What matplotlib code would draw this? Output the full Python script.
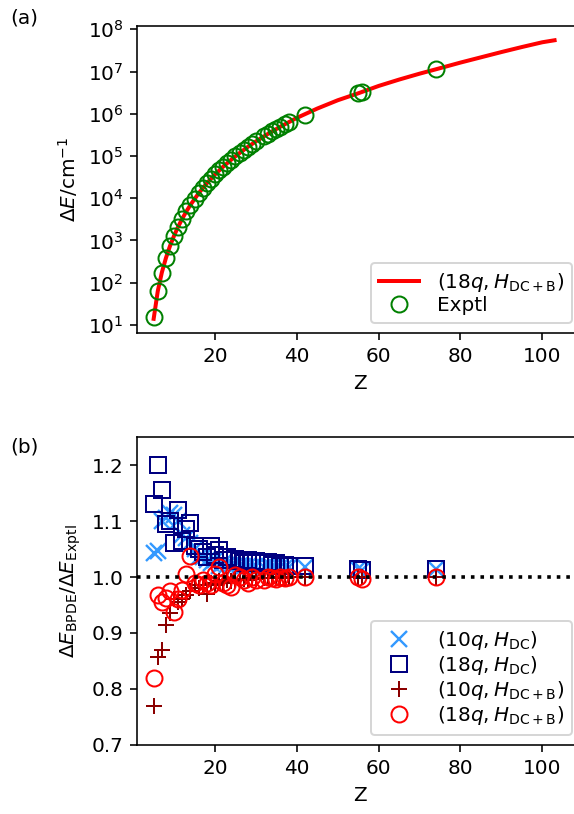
import numpy as np
import matplotlib
matplotlib.use('Agg')
import matplotlib.pyplot as plt

# panel (a): theory curve (18q, H_DC+B)
z_line = [5, 6, 7, 8, 9, 10, 11, 12, 13, 14, 16, 18, 20, 22, 24, 26, 28, 30,
          33, 36, 40, 45, 50, 55, 60, 65, 70, 74, 80, 85, 90, 95, 100, 103]
de_line = [14.0, 63, 175, 386, 745, 1307, 2135, 3300, 4880, 6990, 13140, 22660,
           36560, 56000, 82300, 117500, 164000, 222000, 337000, 496000, 8.0e5,
           1.33e6, 2.09e6, 3.05e6, 4.56e6, 6.45e6, 8.9e6, 1.13e7, 1.63e7,
           2.17e7, 2.89e7, 3.80e7, 4.93e7, 5.5e7]

# experimental points
z_exp = [5, 6, 7, 8, 9, 10, 11, 12, 13, 14, 15, 16, 17, 18, 19, 20, 21, 22, 23,
         24, 25, 26, 27, 28, 29, 30, 32, 33, 34, 35, 36, 37, 38, 42, 55, 56, 74]
de_exp = [15.3, 63.4, 174.4, 386.2, 744.5, 1307, 2137, 3302, 4880, 6991, 9700,
          13140, 17340, 22656, 28900, 36560, 45500, 56000, 68200, 82300, 98400,
          118300, 139000, 164000, 191000, 222000, 294000, 337000, 385000,
          438000, 496000, 560000, 630000, 9.4e5, 3.04e6, 3.35e6, 1.13e7]

# panel (b): ratios to experiment
r_10q_dc = [1.043, 1.047, 1.100, 1.105, 1.115, 1.110, 1.100, 1.075, 1.070,
            1.060, 1.050, 1.035, 1.035, 1.030, 1.025, 1.030, 1.020, 1.025,
            1.022, 1.022, 1.020, 1.022, 1.020, 1.020, 1.018, 1.020, 1.018,
            1.020, 1.018, 1.018, 1.017, 1.018, 1.017, 1.018, 1.015, 1.013, 1.015]
r_18q_dc = [1.130, 1.200, 1.155, 1.095, 1.100, 1.060, 1.120, 1.065, 1.085,
            1.097, 1.055, 1.050, 1.045, 1.035, 1.055, 1.040, 1.048, 1.030,
            1.035, 1.030, 1.032, 1.028, 1.025, 1.030, 1.025, 1.028, 1.025,
            1.026, 1.022, 1.025, 1.020, 1.022, 1.020, 1.020, 1.015, 1.012, 1.015]
r_10q_dcb = [0.770, 0.858, 0.870, 0.915, 0.935, 0.960, 0.955, 0.960, 0.968,
             0.975, 0.985, 0.980, 0.985, 0.970, 0.990, 0.985, 0.992, 0.990,
             0.995, 0.992, 0.995, 0.995, 0.997, 0.995, 0.998, 0.997, 0.998,
             0.998, 0.999, 0.998, 1.000, 0.999, 1.000, 1.000, 1.000, 1.000, 1.000]
r_18q_dcb = [0.820, 0.968, 0.955, 0.962, 0.975, 0.938, 0.960, 0.977, 1.005,
             1.038, 0.990, 0.985, 0.995, 0.990, 0.985, 1.005, 1.018, 0.990,
             0.985, 0.982, 1.003, 1.000, 0.995, 0.990, 1.000, 0.995, 0.995,
             1.000, 0.998, 0.997, 1.000, 0.999, 1.000, 1.000, 1.000, 0.997, 1.000]

W, H = 574, 814
fig = plt.figure(figsize=(W / 144, H / 144), dpi=144)

left = 137.3 / W
width = (582.4 - 137.3) / W
ax1 = fig.add_axes([left, 1 - 333 / H, width, (333 - 25.7) / H])
ax2 = fig.add_axes([left, 1 - 745 / H, width, (745 - 437) / H])

# (a)
ax1.plot(z_line, de_line, color='red', lw=2, label=r'$(18q, H_{\mathrm{DC+B}})$')
ax1.plot(z_exp, de_exp, ls='', marker='o', ms=8, mfc='none', mec='green',
         mew=1.0, label='Exptl')
ax1.set_yscale('log')
ax1.set_xlim(1, 109.8)
ax1.set_ylim(10**0.81, 10**8.085)
ax1.set_yticks([10.0**k for k in range(1, 9)])
ax1.set_xlabel('Z')
ax1.set_ylabel(r'$\Delta E/\mathrm{cm}^{-1}$')
ax1.legend(loc='lower right', labelspacing=0.1, handletextpad=0.9)

# (b)
ax2.plot(z_exp, r_10q_dc, ls='', marker='x', ms=8, color='#3399ff', mew=1.2,
         label=r'$(10q, H_{\mathrm{DC}})$')
ax2.plot(z_exp, r_18q_dc, ls='', marker='s', ms=8, mfc='none', mec='navy',
         mew=1.0, label=r'$(18q, H_{\mathrm{DC}})$')
ax2.plot(z_exp, r_10q_dcb, ls='', marker='+', ms=8, color='darkred', mew=1.0,
         label=r'$(10q, H_{\mathrm{DC+B}})$')
ax2.plot(z_exp, r_18q_dcb, ls='', marker='o', ms=8, mfc='none', mec='red',
         mew=1.0, label=r'$(18q, H_{\mathrm{DC+B}})$')
ax2.axhline(1.0, color='black', ls=':', lw=1.8)
ax2.set_xlim(1, 109.8)
ax2.set_ylim(0.7, 1.25)
ax2.set_yticks(np.arange(0.7, 1.21, 0.1))
ax2.set_xlabel('Z')
ax2.set_ylabel(r'$\Delta E_{\mathrm{BPDE}}/\Delta E_{\mathrm{Exptl}}$')
ax2.legend(loc='lower right', labelspacing=0.1, handletextpad=0.9)

fig.text(10 / W, 1 - 18 / H, '(a)', va='center', ha='left')
fig.text(10 / W, 1 - 447 / H, '(b)', va='center', ha='left')

fig.savefig('out.png', dpi=144)
